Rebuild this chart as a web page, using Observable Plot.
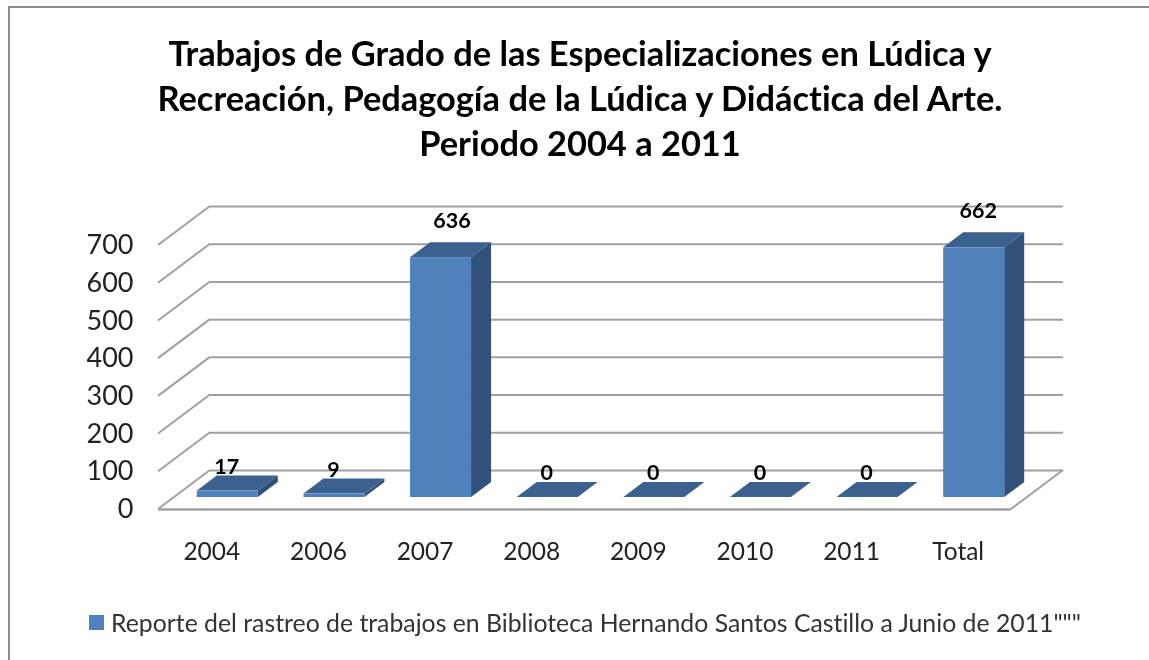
<!DOCTYPE html>
<html><head><meta charset="utf-8">
<script src="https://cdn.jsdelivr.net/npm/d3@7"></script>
<script src="https://cdn.jsdelivr.net/npm/@observablehq/plot@0.6"></script>
<style>
html,body{margin:0;padding:0;background:#fff;}
#frame{position:relative;width:1149px;height:660px;box-sizing:border-box;overflow:hidden;font-family:Lato,sans-serif;font-variant-ligatures:none;filter:blur(0.35px);}
#border{position:absolute;left:8px;top:6px;right:-4px;bottom:-4px;border:2px solid #8a8a8a;}
#title{position:relative;height:190px;box-sizing:border-box;padding-top:30px;width:1160px;text-align:center;font-weight:700;font-size:34.4px;line-height:45px;color:#000;white-space:nowrap;}
#plot svg{display:block;position:relative;}
#legend{position:relative;display:flex;align-items:center;height:90px;padding-left:89px;font-size:24.8px;color:#333;margin-top:7px;white-space:nowrap;}
#legend i{display:inline-block;width:15px;height:15px;background:#4f81bd;margin-right:7px;}
</style></head>
<body>
<div id="frame">
<div id="title"></div>
<div id="plot"></div>
<div id="legend"></div>
<div id="border"></div>
</div>
<script>
const titleLines = ["Trabajos de Grado de las Especializaciones en Lúdica y","Recreación, Pedagogía de la Lúdica y Didáctica del Arte.","Periodo 2004 a 2011"];
const seriesName = 'Reporte del rastreo de trabajos en Biblioteca Hernando Santos Castillo a Junio de 2011"""';
const categories = ["2004","2006","2007","2008","2009","2010","2011","Total"];
const values = [17,9,636,0,0,0,0,662];
const yTicks = [0,100,200,300,400,500,600,700];

const table = categories.map((c,i)=>({c,v:values[i]}));
const FRONT="#4f81bd", SIDE="#30517a", TOP="#3c618e", GRID="#a0a0a0", TEXT="#222";
const paddingInner=0.428, paddingOuter=0.214;

// depth of the 3D box
const wallDx=52, wallDy=-39;
const barDx=16, barDy=-12;
const boxDx=20, boxDy=-15;

document.getElementById("title").innerHTML = titleLines.map(t=>`<div>${t}</div>`).join("");
document.getElementById("legend").innerHTML = `<i></i><span></span>`;
document.querySelector("#legend span").textContent = seriesName;

function wall(index, scales, values_, dim){
  const g=d3.create("svg:g").attr("stroke",GRID).attr("stroke-width",2).attr("fill","none");
  const xl=dim.marginLeft, xr=dim.width-dim.marginRight;
  for(const t of yTicks){
    const y=scales.y(t);
    g.append("line").attr("x1",xl).attr("y1",y).attr("x2",xl+wallDx).attr("y2",y+wallDy);
  }
  const y0=scales.y(0);
  g.append("line").attr("x1",xr).attr("y1",y0).attr("x2",xr+wallDx).attr("y2",y0+wallDy);
  return g.node();
}
function boxes(index, scales, values_, dim){
  const g=d3.create("svg:g");
  const step=scales.x(categories[1])-scales.x(categories[0]);
  const bw=step*(1-paddingInner);
  for(const d of table){
    const xl=scales.x(d.c)+barDx, xr=xl+bw;
    const yt=scales.y(d.v)+barDy, yb=scales.y(0)+barDy;
    g.append("path").attr("fill",SIDE).attr("d",`M${xr},${yt}L${xr+boxDx},${yt+boxDy}L${xr+boxDx},${yb+boxDy}L${xr},${yb}Z`);
    g.append("path").attr("fill",TOP).attr("d",`M${xl},${yt}L${xl+boxDx},${yt+boxDy}L${xr+boxDx},${yt+boxDy}L${xr},${yt}Z`);
  }
  return g.node();
}

const small=d=>d.v<100;
const labelStyle={x:"c",y:"v",text:d=>String(d.v),fontSize:21.5,fontWeight:700,fill:"#000"};
const chart = Plot.plot({
  width:1149, height:380,
  marginLeft:158, marginRight:138, marginTop:55, marginBottom:61,
  style:{background:"transparent",fontFamily:"Lato,sans-serif",overflow:"visible"},
  x:{type:"band",domain:categories,paddingInner,paddingOuter,round:false,label:null},
  y:{domain:[0,700],label:null},
  marks:[
    Plot.ruleY(yTicks,{dx:wallDx,dy:wallDy,stroke:GRID,strokeWidth:2}),
    Plot.ruleY([0],{stroke:GRID,strokeWidth:2.5}),
    wall,
    boxes,
    Plot.barY(table,{x:"c",y:"v",fill:FRONT,dx:barDx,dy:barDy}),
    Plot.text(table,{...labelStyle,filter:small,dx:15,dy:-36}),
    Plot.text(table,{...labelStyle,filter:d=>d.c==="2007",dx:27,dy:-49}),
    Plot.text(table,{...labelStyle,filter:d=>d.c==="Total",dx:20,dy:-49}),
    Plot.axisY({ticks:yTicks,tickSize:0,tickPadding:25,fontSize:27,fill:TEXT,label:null}),
    Plot.axisX({tickSize:0,tickPadding:33,fontSize:24.5,fill:TEXT,label:null})
  ]
});
document.getElementById("plot").appendChild(chart);
</script>
</body></html>
